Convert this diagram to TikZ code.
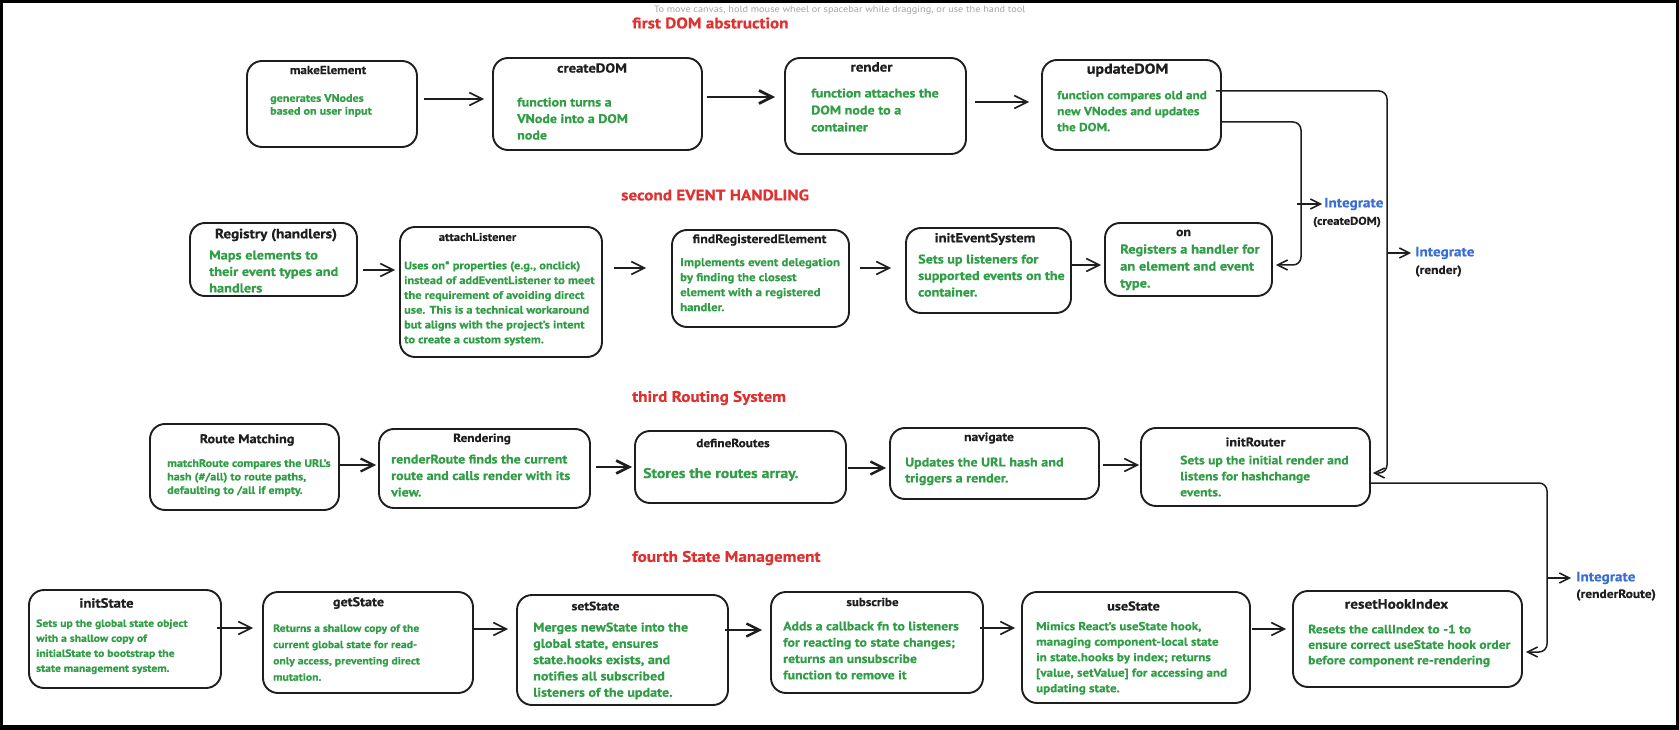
\documentclass[tikz,border=0pt]{standalone}
\usepackage{fontspec}
\setmainfont{PT Sans}[FakeStretch=1.12, BoldFeatures={FakeBold=0.6}]
\usetikzlibrary{arrows.meta}
\definecolor{ink}{RGB}{30,30,30}
\definecolor{grn}{RGB}{47,158,68}
\definecolor{redc}{RGB}{224,49,49}
\definecolor{bluc}{RGB}{58,110,210}
\definecolor{notec}{RGB}{165,165,165}
\newcommand\bfs[2]{\bfseries\fontsize{#1}{#2}\selectfont}
\newcommand\mkbox[5]{\node[box, minimum width=#4pt, minimum height=#5pt] (#1) at (#2,#3) {};}
\tikzset{
  box/.style={draw=ink, line width=1.9pt, rounded corners=15pt, inner sep=0pt, fill=white},
  ttl/.style={text=ink, inner sep=0pt},
  bdy/.style={text=grn, align=left, inner sep=0pt, anchor=north west},
  hd/.style={font=\bfs{15.3}{18}, text=redc, anchor=west, inner sep=0pt},
  arr/.style={draw=ink, line width=1.6pt, -{Straight Barb[length=13pt,width=13pt]}},
  con/.style={draw=ink, line width=1.5pt, rounded corners=8pt, -{Straight Barb[length=10pt,width=10pt]}},
  carr/.style={draw=ink, line width=1.5pt, -{Straight Barb[length=10pt,width=10pt]}},
  intg/.style={font=\bfs{13.5}{15}, text=bluc, anchor=west, inner sep=0pt},
  ints/.style={font=\bfs{12}{14}, text=ink, inner sep=0pt},
}
\begin{document}
\begin{tikzpicture}[x=1pt,y=-1pt]
\useasboundingbox (0,0) rectangle (1679,730);
\fill[white] (0,0) rectangle (1679,730);
% frame
\draw[line width=3pt] (1.5,1.5) rectangle (1677.5,728);
\fill[black] (0,725) rectangle (1679,730);

% note
\node[anchor=west, inner sep=0pt, text=notec, font=\fontsize{9.2}{11}\selectfont] (note) at (654,10) {To move canvas, hold mouse wheel or spacebar while dragging, or use the hand tool};

% headings
\node[hd] (h1) at (632,23) {first DOM abstruction};
\node[hd] (h2) at (621,195) {second EVENT HANDLING};
\node[hd] (h3) at (632,398) {third Routing System};
\node[hd] (h4) at (632,558) {fourth State Management};

% ---------- row 1
\mkbox{mk}{332}{104}{170}{86}
\mkbox{cd}{597.5}{104}{209}{92}
\mkbox{rd}{875.5}{106}{181}{96}
\mkbox{ud}{1131.5}{105}{179}{90}
\node[ttl, font=\bfs{11.7}{14}] (mkT) at (328,70) {makeElement};
\node[ttl, font=\bfs{13.1}{15}] (cdT) at (592,68) {createDOM};
\node[ttl, font=\bfs{13.4}{15}] (rdT) at (871.5,67) {render};
\node[ttl, font=\bfs{14.3}{16}] (udT) at (1127.5,70) {updateDOM};
\node[bdy, font=\bfs{10.8}{12.8}] (mkB) at (270,94) {generates VNodes\\based on user input};
\node[bdy, font=\bfs{12.5}{16.5}] (cdB) at (517,97.4) {function turns a\\VNode into a DOM\\node};
\node[bdy, font=\bfs{12.6}{17}] (rdB) at (811,88.3) {function attaches the\\DOM node to a\\container};
\node[bdy, font=\bfs{11.8}{16}] (udB) at (1057,90.6) {function compares old and\\new VNodes and updates\\the DOM.};

% ---------- row 2
\mkbox{rg}{273.5}{259.5}{167}{73}
\mkbox{al}{501}{292}{202}{130}
\mkbox{fr}{760.5}{278.5}{177}{97}
\mkbox{ie}{988.5}{270.5}{165}{85}
\mkbox{on}{1188.5}{259.5}{167}{73}
\node[ttl, font=\bfs{13.5}{15}] (rgT) at (276,235) {Registry (handlers)};
\node[ttl, font=\bfs{11.3}{14}] (alT) at (477.5,237) {attachListener};
\node[ttl, font=\bfs{12.3}{15}] (frT) at (759.5,240) {findRegisteredElement};
\node[ttl, font=\bfs{13}{15}] (ieT) at (985,239) {initEventSystem};
\node[ttl, font=\bfs{12.3}{14}] (onT) at (1183.5,233) {on};
\node[bdy, font=\bfs{12.8}{16.5}] (rgB) at (209,250.3) {Maps elements to\\their event types and\\handlers};
\node[bdy, font=\bfs{11}{14.8}] (alB) at (404,261) {Uses on* properties (e.g., onclick)\\instead of addEventListener to meet\\the requirement of avoiding direct\\use. This is a technical workaround\\but aligns with the project’s intent\\to create a custom system.};
\node[bdy, font=\bfs{11.4}{15}] (frB) at (680,257.8) {Implements event delegation\\by finding the closest\\element with a registered\\handler.};
\node[bdy, font=\bfs{12.6}{16.5}] (ieB) at (918,254.3) {Sets up listeners for\\supported events on the\\container.};
\node[bdy, font=\bfs{12.9}{17}] (onB) at (1120,244.2) {Registers a handler for\\an element and event\\type.};

% ---------- row 3
\mkbox{rm}{244.5}{467}{189}{86}
\mkbox{rn}{484.5}{468.5}{211}{79}
\mkbox{df}{740.5}{467}{211}{72}
\mkbox{nv}{994.5}{463.5}{209}{71}
\mkbox{ir}{1255.5}{467}{229}{78}
\node[ttl, font=\bfs{12.6}{15}] (rmT) at (247,440) {Route Matching};
\node[ttl, font=\bfs{11.8}{14}] (rnT) at (482,439) {Rendering};
\node[ttl, font=\bfs{11.8}{14}] (dfT) at (733,443) {defineRoutes};
\node[ttl, font=\bfs{12.1}{14}] (nvT) at (989,438) {navigate};
\node[ttl, font=\bfs{12.5}{15}] (irT) at (1255.5,442) {initRouter};
\node[bdy, font=\bfs{10.8}{13.5}] (rmB) at (167,459) {matchRoute compares the URL’s\\hash (\#/all) to route paths,\\defaulting to /all if empty.};
\node[bdy, font=\bfs{12.5}{16.5}] (rnB) at (391,454.4) {renderRoute finds the current\\route and calls render with its\\view.};
\node[bdy, font=\bfs{14}{16}] (dfB) at (643,467.8) {Stores the routes array.};
\node[bdy, font=\bfs{12.6}{16}] (nvB) at (905,457.3) {Updates the URL hash and\\triggers a render.};
\node[bdy, font=\bfs{12.1}{16}] (irB) at (1180,455.5) {Sets up the initial render and\\listens for hashchange\\events.};

% ---------- row 4
\mkbox{is}{125}{639}{192}{98}
\mkbox{gs}{368}{642.5}{210}{101}
\mkbox{ss}{622.5}{650}{211}{110}
\mkbox{sb}{877}{642.5}{212}{101}
\mkbox{us}{1136}{647.5}{228}{111}
\mkbox{rh}{1407.5}{639}{229}{96}
\node[ttl, font=\bfs{13.2}{15}] (isT) at (106.5,603) {initState};
\node[ttl, font=\bfs{12.6}{15}] (gsT) at (358.5,603) {getState};
\node[ttl, font=\bfs{12.2}{15}] (ssT) at (595.5,606) {setState};
\node[ttl, font=\bfs{11.6}{14}] (sbT) at (872.5,602) {subscribe};
\node[ttl, font=\bfs{12.7}{15}] (usT) at (1133.5,606) {useState};
\node[ttl, font=\bfs{13.7}{15}] (rhT) at (1396.5,604) {resetHookIndex};
\node[bdy, font=\bfs{10.4}{15}] (isB) at (36,619.2) {Sets up the global state object\\with a shallow copy of\\initialState to bootstrap the\\state management system.};
\node[bdy, font=\bfs{10.4}{16.3}] (gsB) at (273,624.2) {Returns a shallow copy of the\\current global state for read-\\only access, preventing direct\\mutation.};
\node[bdy, font=\bfs{12.6}{16.3}] (ssB) at (533,622.3) {Merges newState into the\\global state, ensures\\state.hooks exists, and\\notifies all subscribed\\listeners of the update.};
\node[bdy, font=\bfs{12.3}{16.3}] (sbB) at (783,621.4) {Adds a callback fn to listeners\\for reacting to state changes;\\returns an unsubscribe\\function to remove it};
\node[bdy, font=\bfs{11.6}{15.5}] (usB) at (1036,621.7) {Mimics React’s useState hook,\\managing component-local state\\in state.hooks by index; returns\\{[}value, setValue{]} for accessing and\\updating state.};
\node[bdy, font=\bfs{12.1}{15.5}] (rhB) at (1308,624.5) {Resets the callIndex to -1 to\\ensure correct useState hook order\\before component re-rendering};

% ---------- row arrows
\draw[arr, shorten <=6pt, shorten >=8pt] (mk.east |- 0,99) -- (cd.west |- 0,99);
\draw[arr, line width=2.8pt, shorten <=4pt, shorten >=9pt] (cd.east |- 0,97) -- (rd.west |- 0,97);
\draw[arr, shorten <=8pt, shorten >=12pt] (rd.east |- 0,102) -- (ud.west |- 0,102);
\draw[arr, shorten <=5pt, shorten >=4pt] (rg.east |- 0,270) -- (al.west |- 0,270);
\draw[arr, shorten <=11pt, shorten >=25pt] (al.east |- 0,268) -- (fr.west |- 0,268);
\draw[arr, shorten <=10pt, shorten >=14pt] (fr.east |- 0,268) -- (ie.west |- 0,268);
\draw[arr, shorten <=-2pt, shorten >=3pt] (ie.east |- 0,265) -- (on.west |- 0,265);
\draw[arr, line width=2.2pt, shorten <=0pt, shorten >=2pt] (rm.east |- 0,465) -- (rn.west |- 0,465);
\draw[arr, line width=2.6pt, shorten <=5pt, shorten >=2pt] (rn.east |- 0,467) -- (df.west |- 0,467);
\draw[arr, line width=2.4pt, shorten <=1pt, shorten >=3pt] (df.east |- 0,468) -- (nv.west |- 0,468);
\draw[arr, shorten <=3pt, shorten >=1pt] (nv.east |- 0,465) -- (ir.west |- 0,465);
\draw[arr, shorten <=-5pt, shorten >=9pt] (is.east |- 0,628) -- (gs.west |- 0,628);
\draw[arr, shorten <=-2pt, shorten >=8pt] (gs.east |- 0,629) -- (ss.west |- 0,629);
\draw[arr, line width=2.4pt, shorten <=-4pt, shorten >=8pt] (ss.east |- 0,630) -- (sb.west |- 0,630);
\draw[arr, shorten <=-4pt, shorten >=6pt] (sb.east |- 0,628) -- (us.west |- 0,628);
\draw[arr, shorten <=1pt, shorten >=6pt] (us.east |- 0,629) -- (rh.west |- 0,629);

% ---------- long connectors
\draw[con, shorten <=-6pt, shorten >=2pt] (ud.east |- 0,91) -- (1387,91) -- (1387,473) -- (ir.east |- 0,473);
\draw[con, shorten >=3pt] (ud.east |- 0,122) -- (1301,122) -- (1301,265) -- (on.east |- 0,265);
\draw[con, shorten >=3pt] (ir.east |- 0,483) -- (1547,483) -- (1547,652) -- (rh.east |- 0,652);

% Integrate labels
\node[intg] (intA) at (1324,204) {Integrate};
\node[ints, anchor=east, font=\bfs{11.2}{14}] (intAs) at (1381,222) {(createDOM)};
\node[intg] (intB) at (1415,253) {Integrate};
\node[ints, anchor=west] (intBs) at (1415,271) {(render)};
\node[intg] (intC) at (1576,578) {Integrate};
\node[ints, anchor=west] (intCs) at (1576,595) {(renderRoute)};
\coordinate (jA) at (1297,204);
\coordinate (jB) at (1387,253);
\coordinate (jC) at (1547,578);
\draw[carr, shorten >=2pt] (jA) -- (intA.west);
\draw[carr, shorten >=4pt] (jB) -- (intB.west);
\draw[carr, shorten >=5pt] (jC) -- (intC.west);
\end{tikzpicture}
\end{document}
